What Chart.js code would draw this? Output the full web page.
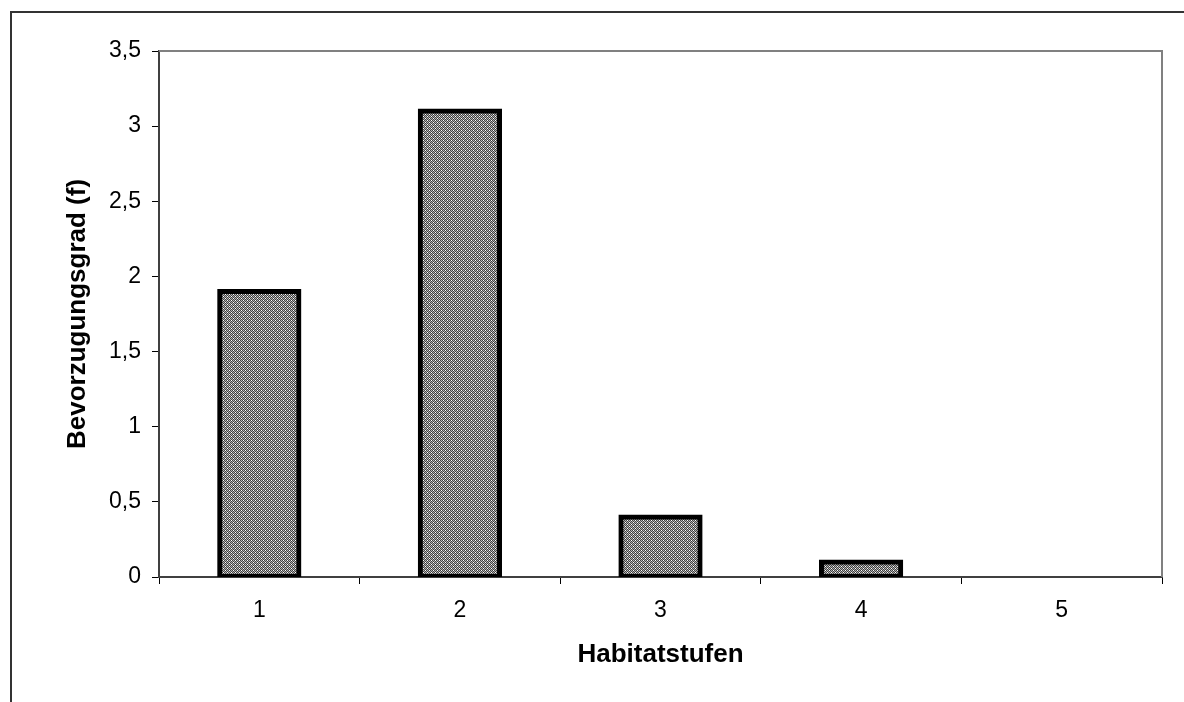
<!DOCTYPE html>
<html>
<head>
<meta charset="utf-8">
<script src="https://cdn.jsdelivr.net/npm/chart.js@4"></script>
<style>
  html, body { margin: 0; padding: 0; background: #fff; }
  #wrap { position: relative; width: 1184px; height: 702px; overflow: hidden; }
  #frame { position: absolute; left: 10px; top: 11px; width: 1200px; height: 720px;
           border-top: 2px solid #333; border-left: 2px solid #333; box-sizing: border-box; }
  canvas { position: absolute; left: 0; top: 0; }
</style>
</head>
<body>
<div id="wrap">
  <div id="frame"></div>
  <canvas id="c" width="1184" height="702"></canvas>
</div>
<script>
const categories = ['1', '2', '3', '4', '5'];
const values = [1.9, 3.1, 0.4, 0.1, 0];
const yTickLabels = ['0', '0,5', '1', '1,5', '2', '2,5', '3', '3,5'];
const xTitle = 'Habitatstufen';
const yTitle = 'Bevorzugungsgrad (f)';

function makePattern() {
  const t = document.createElement('canvas');
  t.width = 4; t.height = 4;
  const g = t.getContext('2d');
  const dark = '#404040', mid = '#b4b4b4', white = '#ffffff';
  const px = [
    [dark, mid, dark, white],
    [mid, dark, mid, dark],
    [dark, white, dark, mid],
    [mid, dark, mid, dark]
  ];
  for (let y = 0; y < 4; y++) for (let x = 0; x < 4; x++) {
    g.fillStyle = px[y][x];
    g.fillRect(x, y, 1, 1);
  }
  return document.getElementById('c').getContext('2d').createPattern(t, 'repeat');
}

const plotFrame = {
  id: 'plotFrame',
  beforeDatasetsDraw(chart) {
    const {ctx, chartArea: a} = chart;
    ctx.save();
    ctx.strokeStyle = '#808080';
    ctx.lineWidth = 2;
    ctx.beginPath();
    ctx.moveTo(a.left, a.top);
    ctx.lineTo(a.right, a.top);
    ctx.lineTo(a.right, a.bottom);
    ctx.stroke();
    ctx.restore();
  }
};

const FONT = 'Liberation Sans, Arial, sans-serif';

new Chart(document.getElementById('c'), {
  type: 'bar',
  data: {
    labels: categories,
    datasets: [{
      data: values,
      backgroundColor: makePattern(),
      borderColor: '#000',
      borderWidth: 5,
      borderSkipped: false,
      inflateAmount: 2.5,
      categoryPercentage: 1,
      barPercentage: 0.395
    }]
  },
  options: {
    responsive: false,
    devicePixelRatio: 1,
    animation: false,
    layout: { padding: { left: 0, top: 51, right: 22, bottom: 0 } },
    plugins: { legend: { display: false }, tooltip: { enabled: false } },
    scales: {
      x: {
        afterFit(s) { s.height = 125; },
        grid: { drawOnChartArea: false, drawTicks: true, tickLength: 7, color: '#000', lineWidth: 1, offset: true },
        border: { color: '#404040', width: 2 },
        ticks: { color: '#000', font: { family: FONT, size: 23 }, padding: 13 },
        title: { display: true, text: xTitle, color: '#000',
                 font: { family: FONT, size: 26, weight: 'bold' }, padding: { top: 0, bottom: 32 } }
      },
      y: {
        min: 0, max: 3.5,
        afterFit(s) { s.width = 159; },
        afterBuildTicks(s) { s.ticks = yTickLabels.map((l, i) => ({ value: i * 0.5 })); },
        grid: { drawOnChartArea: false, drawTicks: true, tickLength: 7, color: '#000', lineWidth: 1 },
        border: { color: '#404040', width: 2 },
        ticks: { color: '#000', font: { family: FONT, size: 23 }, padding: 11,
                 callback: (v, i) => yTickLabels[i] },
        title: { display: true, text: yTitle, color: '#000',
                 font: { family: FONT, size: 26, weight: 'bold' }, padding: { top: 62, bottom: 0 } }
      }
    }
  },
  plugins: [plotFrame]
});
</script>
</body>
</html>
